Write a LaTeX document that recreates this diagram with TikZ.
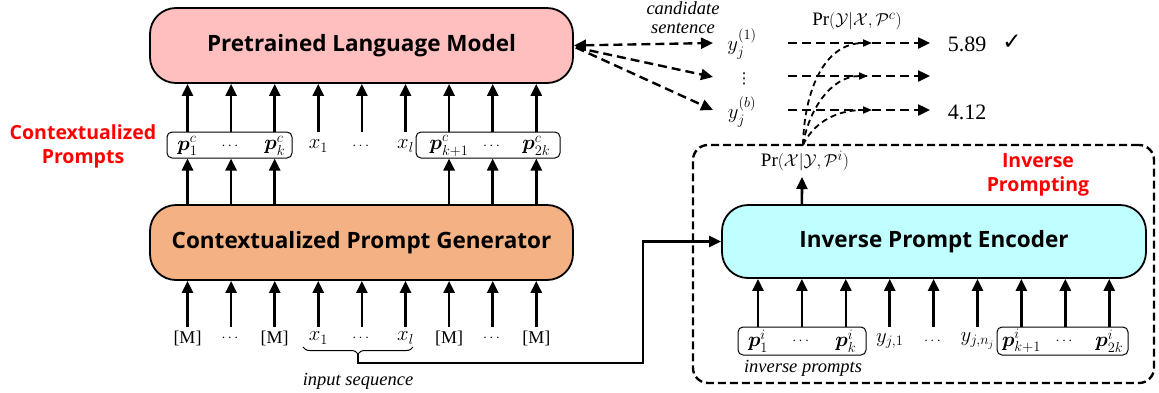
\documentclass[tikz,border=0pt]{standalone}
\usepackage{amsmath,amssymb}
\usepackage{fontspec}
\setmainfont{Liberation Serif}
\newfontfamily\hdfont{Open Sans}
\newfontfamily\symfont{DejaVu Sans}
\usetikzlibrary{arrows.meta,decorations.pathreplacing,calc}
\definecolor{plmpink}{RGB}{255,191,191}
\definecolor{cpgorange}{RGB}{244,177,131}
\definecolor{ipecyan}{RGB}{192,255,255}
\newcommand{\mtok}{\fontsize{18}{20}\selectfont}
\newcommand{\sdots}{{\fontsize{14}{16}\selectfont$\cdots$}}
\begin{document}
\begin{tikzpicture}[x=1pt,y=-1pt,
  bigbox/.style={draw,line width=1.8pt,rounded corners=26pt,inner sep=0pt,font=\hdfont\bfseries\fontsize{22.5}{26}\selectfont},
  tok/.style={inner sep=0pt,font=\fontsize{20.5}{22}\selectfont},
  pbox/.style={draw,line width=1pt,rounded corners=5pt,inner sep=0pt},
  uparr/.style={line width=2.6pt,-{Triangle[length=12pt,width=11pt]}},
  dasharr/.style={line width=2.4pt,dash pattern=on 9pt off 5pt,-{Triangle[length=12pt,width=11pt]}},
  thinarr/.style={line width=1.8pt,dash pattern=on 6pt off 4pt,-{Triangle[length=9pt,width=7pt]}},
  redlbl/.style={text=red,align=center,font=\hdfont\bfseries\fontsize{19.5}{24}\selectfont},
  itlbl/.style={font=\itshape\fontsize{18.5}{19}\selectfont,align=center,inner sep=0pt},
]
\useasboundingbox (0,0) rectangle (1159,392);

% main boxes
\node[bigbox,fill=plmpink,minimum width=423pt,minimum height=75pt] (plm) at (361.5,45.5) {Pretrained Language Model};
\node[bigbox,fill=cpgorange,minimum width=423pt,minimum height=75pt] (cpg) at (361.5,242.5) {Contextualized Prompt Generator};
\node[bigbox,fill=ipecyan,minimum width=424pt,minimum height=73pt] (ipe) at (934,241.5) {Inverse Prompt Encoder};

% inverse prompting frame
\node[draw,line width=2.4pt,dash pattern=on 8pt off 4pt,rounded corners=15pt,minimum width=461pt,minimum height=238pt,inner sep=0pt] (frame) at (923.5,264) {};

% red labels
\node[redlbl] (cplbl) at (83,146) {Contextualized\\Prompts};
\node[redlbl] (iplbl) at (1038,174.5) {Inverse\\Prompting};

% top row tokens
\foreach \lbl [count=\i] in {{$\boldsymbol{p}_1^c$},{\sdots},{$\boldsymbol{p}_k^c$},{$x_1$},{\sdots},{$x_l$},{$\boldsymbol{p}_{k+1}^c$},{\sdots},{$\boldsymbol{p}_{2k}^c$}}
  \node[tok] (a\i) at ({187.5+43.6*(\i-1)},146) {\lbl};
\node[pbox,minimum width=125pt,minimum height=26pt] (pbL) at (229.5,145) {};
\node[pbox,minimum width=144pt,minimum height=26pt] (pbR) at (488,145) {};

% bottom row tokens
\foreach \lbl [count=\i] in {{\mtok[M]},{\sdots},{\mtok[M]},{$x_1$},{\sdots},{$x_l$},{\mtok[M]},{\sdots},{\mtok[M]}}
  \node[tok] (b\i) at ({187.5+43.6*(\i-1)},338) {\lbl};
\coordinate (brow) at (0,327);

% IPE row tokens
\foreach \lbl [count=\i] in {{$\boldsymbol{p}_1^i$},{\sdots},{$\boldsymbol{p}_k^i$},{$y_{j,1}$},{\sdots},{$y_{j,n_j}$},{$\boldsymbol{p}_{k+1}^i$},{\sdots},{$\boldsymbol{p}_{2k}^i$}}
  \node[tok] (c\i) at ({758+43.9*(\i-1)},341) {\lbl};
\node[pbox,minimum width=128pt,minimum height=28pt] (ibL) at (802,341) {};
\node[pbox,minimum width=131pt,minimum height=28pt] (ibR) at (1062.5,341) {};

% arrows into PLM
\foreach \i in {1,...,9}
  \draw[uparr] (a\i |- pbL.north) -- (a\i |- plm.south);
% arrows CPG -> prompt boxes
\foreach \i in {1,2,3}
  \draw[uparr] (a\i |- cpg.north) -- (a\i |- pbL.south);
\foreach \i in {7,8,9}
  \draw[uparr] (a\i |- cpg.north) -- (a\i |- pbR.south);
% arrows into CPG
\foreach \i in {1,...,9}
  \draw[uparr] (b\i |- brow) -- (b\i |- cpg.south);
% arrows into IPE
\foreach \i in {1,...,9}
  \draw[uparr] (c\i |- ibL.north) -- (c\i |- ipe.south);

% labels
\node[itlbl] (inseq) at (358,381) {input sequence};
\node[itlbl] (invp) at (803,368) {inverse prompts};
\node[itlbl,align=center] (cand) at (683,18) {candidate\\sentence};

% brace and input connector
\coordinate (br1) at (303,347);
\coordinate (br2) at (413,347);
\draw[line width=1pt,decorate,decoration={brace,mirror,amplitude=7pt}] (br1) -- (br2);
\coordinate (brtip) at (358,354);
\coordinate (bend) at (643,363);
\draw[line width=2.6pt,-{Triangle[length=12pt,width=11pt]}] (brtip) |- (bend) |- (ipe.west);

% IPE output
\node[tok,font=\fontsize{19}{21}\selectfont] (prx) at (805,161) {$\Pr(\mathcal{X}|\mathcal{Y},\mathcal{P}^i)$};
\coordinate (prxb) at (802,177);
\draw[uparr] (c2 |- ipe.north) -- (prxb);

% candidate outputs
\node[tok,font=\fontsize{20}{21}\selectfont] (yj1) at (742,44) {$y_j^{(1)}$};
\node[tok,font=\symfont\fontsize{15}{16}\selectfont] (ydots) at (744,79) {⋮};
\node[tok,font=\fontsize{20}{21}\selectfont] (yjb) at (742,112) {$y_j^{(b)}$};
\coordinate (l1) at (713,43);
\coordinate (l2) at (713,77);
\coordinate (l3) at (713,110);
\draw[dasharr,{Triangle[length=12pt,width=11pt]}-{Triangle[length=12pt,width=11pt]}] (plm.east) -- (l1);
\draw[dasharr] ($(plm.east)+(2,2)$) -- (l2);
\draw[dasharr] ($(plm.east)+(2,2)$) -- (l3);

% scores
\node[tok,font=\fontsize{19}{21}\selectfont] (pry) at (857,21) {$\Pr(\mathcal{Y}|\mathcal{X},\mathcal{P}^c)$};
\node[tok,font=\fontsize{22}{24}\selectfont] (s1) at (967,44) {5.89};
\node[tok,font=\fontsize{22}{24}\selectfont] (s3) at (967,112) {4.12};
\node[tok,font=\symfont\fontsize{23}{25}\selectfont] (chk) at (1012,42) {✓};
\coordinate (r1s) at (788,43);
\coordinate (r2s) at (788,76);
\coordinate (r3s) at (788,110);
\coordinate (r1e) at (930,43);
\coordinate (r2e) at (930,76);
\coordinate (r3e) at (930,110);
\draw[dasharr] (r1s) -- (r1e);
\draw[dasharr] (r2s) -- (r2e);
\draw[dasharr] (r3s) -- (r3e);

% curved dashed connectors
\coordinate (cst) at (803,145);
\coordinate (m1) at (872,43);
\coordinate (m2) at (868,76);
\coordinate (m3) at (872,110);
\draw[thinarr] (cst) .. controls (804,95) and (822,43) .. (m1);
\draw[thinarr] (cst) .. controls (808,112) and (830,76) .. (m2);
\draw[thinarr] (cst) .. controls (812,126) and (832,110) .. (m3);
\end{tikzpicture}
\end{document}
